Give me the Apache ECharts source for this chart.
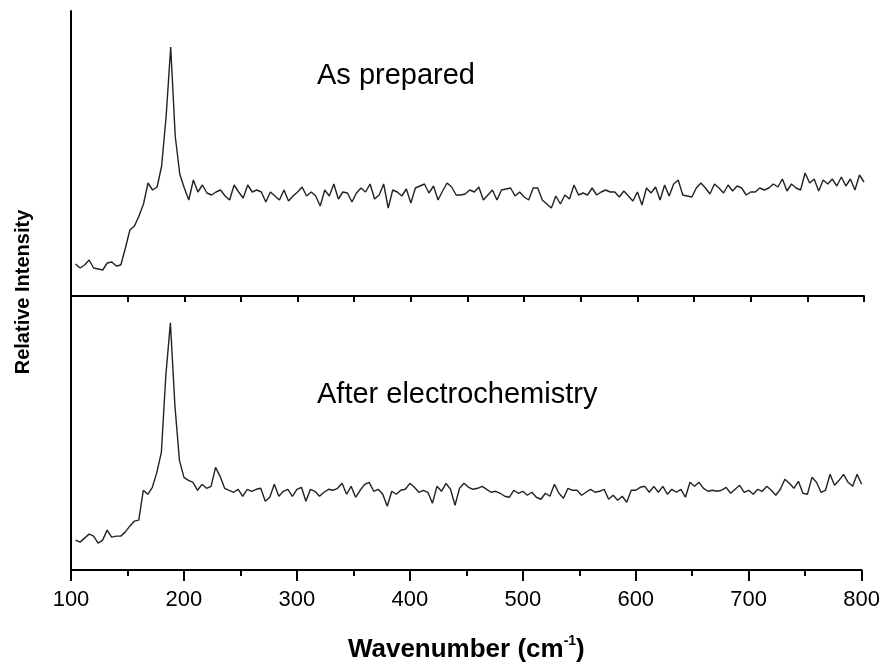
<!DOCTYPE html>
<html>
<head>
<meta charset="utf-8">
<script src="https://cdn.jsdelivr.net/npm/echarts@6/dist/echarts.min.js"></script>
<style>
    body { margin: 0; background: #fff; }
    #id-div-chart { width: 883px; height: 664px; }
</style>
</head>
<body>
<div id="id-div-chart"></div>
<script>
var log = console.log.bind(console)

var e = (selector) => document.querySelector(selector)

// 拉曼位移 (cm-1)
var wavenumber = [
    104, 108, 112, 116, 120, 124, 128, 132, 136, 140,
    144, 148, 152, 156, 160, 164, 168, 172, 176, 180,
    184, 188, 192, 196, 200, 204, 208, 212, 216, 220,
    224, 228, 232, 236, 240, 244, 248, 252, 256, 260,
    264, 268, 272, 276, 280, 284, 288, 292, 296, 300,
    304, 308, 312, 316, 320, 324, 328, 332, 336, 340,
    344, 348, 352, 356, 360, 364, 368, 372, 376, 380,
    384, 388, 392, 396, 400, 404, 408, 412, 416, 420,
    424, 428, 432, 436, 440, 444, 448, 452, 456, 460,
    464, 468, 472, 476, 480, 484, 488, 492, 496, 500,
    504, 508, 512, 516, 520, 524, 528, 532, 536, 540,
    544, 548, 552, 556, 560, 564, 568, 572, 576, 580,
    584, 588, 592, 596, 600, 604, 608, 612, 616, 620,
    624, 628, 632, 636, 640, 644, 648, 652, 656, 660,
    664, 668, 672, 676, 680, 684, 688, 692, 696, 700,
    704, 708, 712, 716, 720, 724, 728, 732, 736, 740,
    744, 748, 752, 756, 760, 764, 768, 772, 776, 780,
    784, 788, 792, 796, 800,
]

// As prepared
var prepared = [
    32, 28, 31, 36, 28, 27, 26, 33, 34, 30,
    31, 48, 66, 70, 80, 92, 113, 106, 109, 130,
    180, 249, 160, 122, 108, 96, 116, 104, 111, 103,
    101, 104, 106, 100, 96, 111, 104, 98, 111, 104,
    106, 104, 94, 104, 100, 96, 106, 95, 100, 104,
    109, 100, 104, 100, 90, 106, 100, 112, 97, 104,
    103, 94, 103, 108, 104, 112, 97, 101, 112, 88,
    106, 104, 100, 107, 93, 108, 110, 112, 103, 110,
    96, 105, 113, 109, 101, 101, 102, 106, 104, 109,
    96, 101, 106, 96, 106, 107, 108, 100, 104, 99,
    96, 108, 108, 96, 92, 88, 100, 92, 101, 97,
    111, 101, 103, 101, 108, 101, 104, 106, 104, 104,
    99, 105, 100, 95, 104, 91, 108, 103, 109, 96,
    111, 100, 112, 116, 101, 100, 99, 108, 113, 108,
    102, 112, 108, 103, 111, 105, 110, 108, 101, 104,
    104, 108, 106, 108, 112, 109, 117, 105, 112, 108,
    106, 123, 113, 117, 105, 116, 112, 117, 110, 119,
    110, 117, 106, 121, 114,
]

// After electrochemistry
var afterEchem = [
    30, 28, 32, 36, 34, 27, 30, 40, 33, 34,
    34, 38, 44, 49, 50, 80, 76, 83, 98, 118,
    196, 248, 165, 110, 93, 90, 88, 80, 86, 82,
    84, 103, 94, 82, 80, 78, 81, 74, 81, 79,
    81, 82, 69, 73, 86, 74, 79, 81, 74, 81,
    83, 69, 81, 79, 74, 78, 81, 80, 82, 87,
    76, 84, 73, 80, 86, 88, 79, 81, 76, 64,
    79, 76, 80, 81, 87, 83, 78, 80, 78, 67,
    84, 79, 87, 81, 65, 82, 87, 83, 81, 82,
    84, 81, 78, 79, 77, 74, 73, 80, 77, 79,
    75, 78, 73, 71, 77, 74, 86, 77, 72, 82,
    80, 80, 75, 78, 81, 78, 79, 81, 71, 75,
    70, 74, 68, 80, 80, 83, 84, 78, 84, 78,
    84, 76, 81, 78, 81, 73, 88, 84, 88, 82,
    79, 80, 79, 80, 83, 77, 81, 85, 78, 80,
    76, 81, 79, 84, 80, 75, 81, 91, 87, 82,
    89, 77, 76, 93, 88, 78, 80, 96, 85, 90,
    96, 88, 84, 96, 86,
]

var xTicks = [100, 200, 300, 400, 500, 600, 700, 800]

var font = 'Arial, "Liberation Sans", sans-serif'

var pairs = function(xs, ys) {
    var r = []
    for (var i = 0; i < xs.length; i++) {
        r.push([xs[i], ys[i]])
    }
    return r
}

var blackLine = {
    show: true,
    lineStyle: {
        color: '#000',
        width: 2,
    },
}

var formattedOption = function() {
    var option = {
        animation: false,
        backgroundColor: '#fff',
        grid: [
            {left: 71, right: 19, top: 11, height: 285},
            {left: 71, right: 19, top: 296, height: 275},
        ],
        xAxis: [
            {
                type: 'value',
                gridIndex: 0,
                min: xTicks[0],
                max: xTicks[xTicks.length - 1],
                interval: 50,
                axisLine: blackLine,
                axisTick: {show: true, length: 6, lineStyle: {color: '#000', width: 2}},
                axisLabel: {show: false},
                splitLine: {show: false},
            },
            {
                type: 'value',
                gridIndex: 1,
                min: xTicks[0],
                max: xTicks[xTicks.length - 1],
                interval: 100,
                axisLine: blackLine,
                axisTick: {show: true, length: 11, lineStyle: {color: '#000', width: 2}},
                minorTick: {show: true, splitNumber: 2, length: 6, lineStyle: {color: '#000', width: 2}},
                axisLabel: {
                    color: '#000',
                    fontSize: 22,
                    fontFamily: font,
                    margin: 19,
                },
                splitLine: {show: false},
                name: '{t|Wavenumber (cm}{s|-1}{t|)}',
                nameLocation: 'middle',
                nameGap: 64,
                nameTextStyle: {
                    rich: {
                        t: {fontSize: 26, fontWeight: 'bold', fontFamily: font, color: '#000', lineHeight: 32},
                        s: {fontSize: 14, fontWeight: 'bold', fontFamily: font, color: '#000', lineHeight: 18, verticalAlign: 'top'},
                    },
                },
            },
        ],
        yAxis: [
            {
                type: 'value',
                gridIndex: 0,
                min: 0,
                max: 285,
                axisLine: blackLine,
                axisTick: {show: false},
                axisLabel: {show: false},
                splitLine: {show: false},
            },
            {
                type: 'value',
                gridIndex: 1,
                min: 0,
                max: 275,
                axisLine: blackLine,
                axisTick: {show: false},
                axisLabel: {show: false},
                splitLine: {show: false},
            },
        ],
        graphic: [
            {
                type: 'text',
                left: 317,
                top: 61,
                style: {text: 'As prepared', fontSize: 29, fontFamily: font, fill: '#000'},
            },
            {
                type: 'text',
                left: 317,
                top: 380,
                style: {text: 'After electrochemistry', fontSize: 29, fontFamily: font, fill: '#000'},
            },
            {
                type: 'text',
                x: 23,
                y: 292,
                rotation: Math.PI / 2,
                style: {
                    text: 'Relative Intensity',
                    fontSize: 20,
                    fontWeight: 'bold',
                    fontFamily: font,
                    fill: '#000',
                    align: 'center',
                    verticalAlign: 'middle',
                },
            },
        ],
        series: [
            {
                name: 'As prepared',
                type: 'line',
                xAxisIndex: 0,
                yAxisIndex: 0,
                data: pairs(wavenumber, prepared),
                showSymbol: false,
                lineStyle: {color: '#222', width: 1.4},
            },
            {
                name: 'After electrochemistry',
                type: 'line',
                xAxisIndex: 1,
                yAxisIndex: 1,
                data: pairs(wavenumber, afterEchem),
                showSymbol: false,
                lineStyle: {color: '#222', width: 1.4},
            },
        ],
    }
    return option
}

var __main = function() {
    var chart = echarts.init(e('#id-div-chart'))
    chart.setOption(formattedOption())
}

__main()
</script>
</body>
</html>
